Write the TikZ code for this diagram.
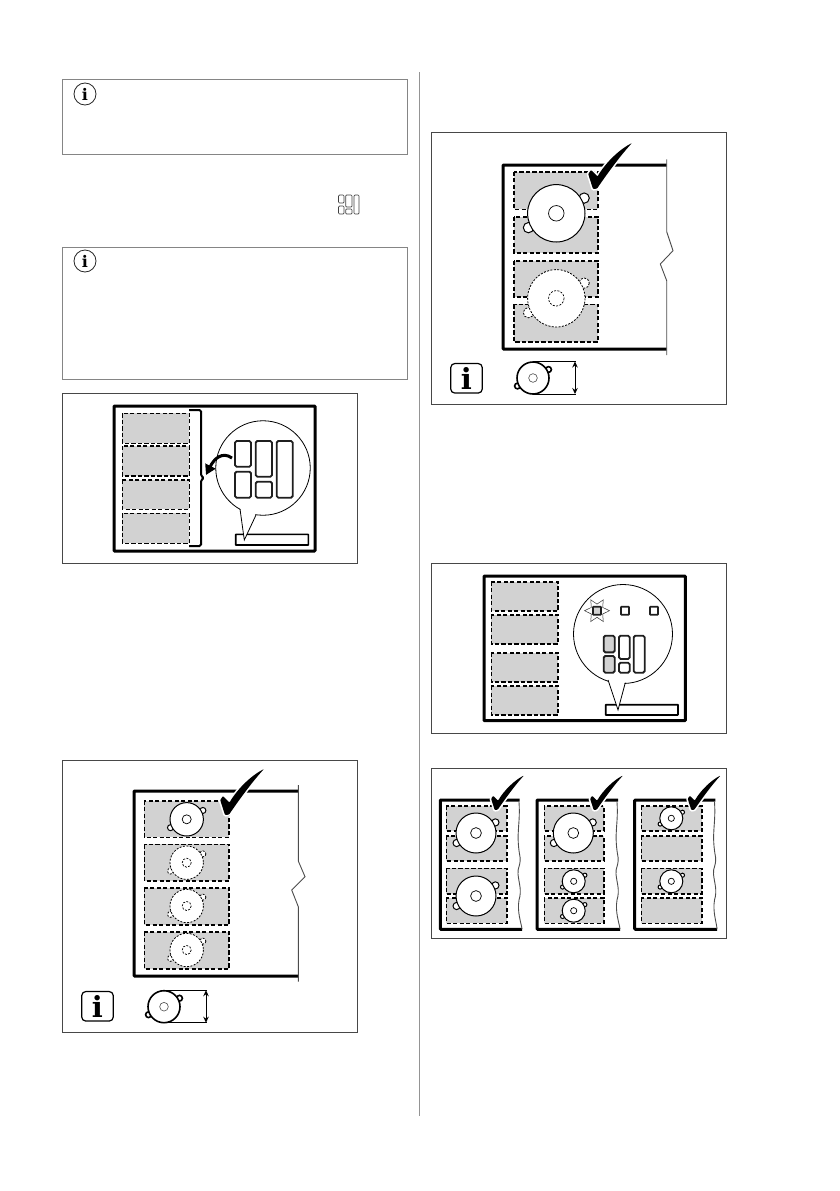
\documentclass[tikz,border=0pt]{standalone}
\usepackage{fontspec}
\usepackage{tikz}
\usetikzlibrary{shapes.geometric, arrows.meta, positioning, calc}

\newfontfamily\infofont{DejaVu Serif}
\definecolor{zonegray}{HTML}{D2D2D2}

\newcommand{\burner}[4]{
  \begin{scope}[shift={(#1,#2)}, scale=#3, #4]
    \filldraw (0.97,-0.53) circle [radius=0.18];
    \filldraw (-0.97,0.5) circle [radius=0.18];
    \filldraw (0,0) circle [radius=1];
    \draw[inner ring] (0,0) circle [radius=0.27];
  \end{scope}
}
\newcommand{\tickmark}[3]{
  \begin{scope}[shift={(#1,#2)}, scale=#3]
    \fill[black, rounded corners=0.8pt, preaction={draw=white, line width=3.2pt}]
      (-4.8,-15) -- (-2,-19) -- (4.5,-12.5)
      .. controls (13,-27) and (27,-40) .. (39,-46)
      .. controls (27,-33) and (14,-15) .. (4,-0.4) -- (0,0) -- cycle;
  \end{scope}
}
\newcommand{\sizemark}[3]{
  \burner{#2}{#3}{16}{solid burner, small burner}
  \coordinate (#1_top) at (#2,#3-16.5);
  \coordinate (#1_bot) at (#2,#3+16);
  \coordinate (#1_topr) at (#2+43,#3-16.5);
  \coordinate (#1_botr) at (#2+43,#3+16);
  \draw[size line] (#1_top) -- (#1_topr);
  \draw[size line] (#1_bot) -- (#1_botr);
  \draw[size arrow] ($(#1_topr)+(-1,0)$) -- ($(#1_botr)+(-1,0)$);
}
\newcommand{\wavyedge}[4]{
  \draw[thin edge] (#1,#2) .. controls (#1+1.5,#2+22) and (#1-3,#2+30) .. (#1+0.5,#2+52)
    .. controls (#1+3,#2+62) and (#1-2,#2+66) .. (#1-1,#2+72)
    .. controls (#1,#2+82) and (#1+3,#2+88) .. (#1,#2+98)
    .. controls (#1-2,#2+110) and (#1+2,#2+120) .. (#3,#4);
}

\begin{document}
\begin{tikzpicture}[
  x=1pt, y=-1pt,
  info frame/.style={draw=black!48, line width=0.9pt},
  pic frame/.style={draw=black!72, line width=0.9pt},
  divider/.style={draw=black!42, line width=0.9pt},
  hob/.style={draw=black, line width=3pt, rounded corners=0.8pt},
  zone/.style={draw=black, fill=zonegray, line width=1.6pt, dash pattern=on 4.2pt off 2.3pt},
  key/.style={draw=black!88, fill=white, line width=1.9pt, rounded corners=1.6pt},
  thin key/.style={draw=black!75, line width=0.7pt, rounded corners=1pt},
  key on/.style={key, fill=zonegray},
  bubble/.style={circle, draw=black, fill=white, line width=0.8pt, inner sep=0pt},
  bubble tail/.style={draw=black, line width=0.8pt},
  bar/.style={draw=black, fill=white, line width=1.6pt, rounded corners=0.4pt},
  thin edge/.style={draw=black!70, line width=0.9pt},
  solid burner/.style={draw=black, fill=white, line width=1pt},
  small burner/.style={line width=1.6pt, inner ring/.style={draw=black!70, line width=0.6pt}},
  dashed burner/.style={draw=black, fill=white, line width=0.8pt, dash pattern=on 2pt off 1.4pt},
  inner ring/.style={line width=0.7pt},
  size line/.style={draw=black, line width=0.9pt},
  size arrow/.style={{Stealth[length=6pt,width=5.5pt]}-{Stealth[length=6pt,width=5.5pt]}, line width=1pt},
  info round/.style={circle, draw=black!85, line width=0.8pt, minimum size=22pt, inner sep=0pt, font=\infofont\bfseries\fontsize{16}{16}\selectfont},
  info key/.style={draw=black, line width=1.2pt, rounded corners=4pt, minimum width=31.5pt, minimum height=29.5pt, inner sep=0pt, font=\infofont\bfseries\fontsize{29}{29}\selectfont}
]

\useasboundingbox (0,0) rectangle (839,1191);

\draw[divider] (419,72) -- (419,1116);

\draw[info frame] (62.3,79.3) rectangle (407,154);
\node (info_one) [info round] at (85,94) {i};

\draw[thin key] (338.5,195) rectangle (344,203);
\draw[thin key] (338.5,206) rectangle (344,214);
\draw[thin key] (345.7,195) rectangle (352,207);
\draw[thin key] (345.7,209) rectangle (352,214);
\draw[thin key] (354,195) rectangle (359,214);

\draw[info frame] (62.3,247.3) rectangle (407,379.3);
\node (info_two) [info round] at (85,261) {i};

\draw[pic frame] (62.3,393.3) rectangle (357.3,563.3);
\draw[hob] (114,406) rectangle (315,551);
\draw[zone] (122.3,413.3) rectangle (189.3,443.3);
\draw[zone] (122.3,446) rectangle (189.3,476);
\draw[zone] (122.3,480) rectangle (189.3,509.3);
\draw[zone] (122.3,513.3) rectangle (189.3,543.3);
\draw[line width=2pt, rounded corners=1.5pt] (189,410) -- (201,410) -- (201,476) -- (204,478) -- (201,480) -- (201,546) -- (189,546);
\draw[bar] (235.7,534.3) rectangle (308.3,545);
\node (bubble_one) [bubble, minimum size=94.5pt] at (263,468) {};
\coordinate (tail_one) at (244.3,540);
\fill[white] (240,507) -- (tail_one) -- (256,513) -- cycle;
\draw[bubble tail] (240,509) -- (tail_one) -- (256,515);
\draw[key] (235,441) rectangle (251,466.7);
\draw[key] (235,471.7) rectangle (251,497.7);
\draw[key] (255.7,441) rectangle (272,476.7);
\draw[key] (255.7,481.7) rectangle (272,497.7);
\draw[key] (276.7,441) rectangle (292.7,497.7);
\draw[-{Triangle[length=10pt,width=11pt]}, line width=3pt] (232,458) .. controls (222,451) and (214,459) .. (206,475);

\draw[pic frame] (62.3,760) rectangle (357.3,1032.3);
\draw[hob] (298,791) -- (134,791) -- (134,976) -- (298,976);
\draw[thin edge] (298.3,785) -- (298.3,861) -- (305,876.7) -- (291.7,890) -- (298.3,906.7) -- (298.3,981.7);
\draw[zone] (144.3,800.7) rectangle (229,837.3);
\draw[zone] (144.3,844.3) rectangle (229,881);
\draw[zone] (144.3,887.7) rectangle (229,925);
\draw[zone] (144.3,931.7) rectangle (229,969);
\burner{186.7}{819.3}{16.7}{solid burner}
\burner{186.7}{862.7}{16.7}{dashed burner}
\burner{186.7}{906}{16.7}{dashed burner}
\burner{186.7}{950}{16.7}{dashed burner}
\tickmark{225}{815}{1}
\node (info_three) [info key] at (97.5,1006.3) {i};
\sizemark{size_one}{164}{1006.7}

\draw[pic frame] (431.3,132.7) rectangle (726.3,404);
\draw[hob] (666.7,165) -- (503,165) -- (503,349) -- (666.7,349);
\draw[thin edge] (666.7,159.3) -- (666.7,231.7) -- (673,250.7) -- (660.3,264) -- (666.7,280.7) -- (666.7,355);
\draw[zone] (513.7,171.7) rectangle (598,209.3);
\draw[zone] (513.7,216.7) rectangle (598,252.7);
\draw[zone] (513.7,260.7) rectangle (598,296.7);
\draw[zone] (513.7,304.3) rectangle (598,341.7);
\burner{556.3}{213.3}{28.7}{solid burner}
\burner{556.3}{298.3}{28.7}{dashed burner}
\tickmark{593}{189}{1}
\node (info_four) [info key] at (466.5,378.3) {i};
\sizemark{size_two}{533}{378}

\draw[pic frame] (431.3,563.3) rectangle (726.3,733.3);
\draw[hob] (484,576) rectangle (685.3,720.7);
\draw[zone] (491.3,581.7) rectangle (558,611);
\draw[zone] (491.3,615) rectangle (558,644);
\draw[zone] (491.3,652.7) rectangle (558,681.7);
\draw[zone] (491.3,686) rectangle (558,715);
\draw[bar] (605.7,704.7) rectangle (678,715);
\node (bubble_two) [bubble, minimum size=99pt] at (623,634) {};
\coordinate (tail_two) at (618,710);
\fill[white] (608,678) -- (tail_two) -- (625.3,680.5) -- cycle;
\draw[bubble tail] (608,680) -- (tail_two) -- (625.3,682.7);
\node (burst) [star, star points=6, star point ratio=1.9, draw=black!80, line width=0.5pt, minimum size=25pt, inner sep=0pt, shape border rotate=90] at (597,610.7) {};
\draw[key on, line width=1.6pt, rounded corners=0.5pt] (593,606.7) rectangle (601,614.7);
\draw[key, line width=1.6pt, rounded corners=0.5pt] (621,606.7) rectangle (629,614.7);
\draw[key, line width=1.6pt, rounded corners=0.5pt] (650,606.7) rectangle (658,614.7);
\draw[key on] (603.7,635.7) rectangle (614.7,652.3);
\draw[key on] (603.7,656) rectangle (614.7,672.7);
\draw[key] (619,635.7) rectangle (629.7,659);
\draw[key] (619,662.7) rectangle (629.7,672.7);
\draw[key] (633.7,635.7) rectangle (644.7,672.7);

\draw[pic frame] (431.3,768.3) rectangle (726.3,938.3);

\draw[hob] (519.7,800) -- (440.3,800) -- (440.3,929.3) -- (522,929.3);
\wavyedge{519}{802}{522}{929}
\draw[zone] (446.3,805.7) rectangle (506.7,831);
\draw[zone] (446.3,835.7) rectangle (506.7,861);
\draw[zone] (446.3,868.3) rectangle (506.7,894);
\draw[zone] (446.3,897.7) rectangle (506.7,923.3);
\burner{476}{833}{20}{solid burner}
\burner{476}{896}{20}{solid burner}
\tickmark{494.7}{810}{0.75}

\draw[hob] (618,800) -- (537,800) -- (537,929.3) -- (620,929.3);
\wavyedge{617}{802}{620}{929}
\draw[zone] (544.3,805.7) rectangle (603.7,831);
\draw[zone] (544.3,835.7) rectangle (603.7,861);
\draw[zone] (544.3,868.3) rectangle (603.7,894);
\draw[zone] (544.3,897.7) rectangle (603.7,923.3);
\burner{573.3}{833}{20}{solid burner}
\burner{573.7}{881.3}{11.5}{solid burner}
\burner{573.7}{910.7}{11.5}{solid burner}
\tickmark{593.7}{810}{0.75}

\draw[hob] (715.3,800) -- (634.7,800) -- (634.7,929.3) -- (717,929.3);
\wavyedge{714.5}{802}{717}{929}
\draw[zone] (641.3,805.7) rectangle (701.7,831);
\draw[zone] (641.3,835.7) rectangle (701.7,861);
\draw[zone] (641.3,868.3) rectangle (701.7,894);
\draw[zone] (641.3,897.7) rectangle (701.7,923.3);
\burner{671.3}{818.3}{11.5}{solid burner}
\burner{671.3}{881.3}{11.5}{solid burner}
\tickmark{691.3}{810}{0.75}

\end{tikzpicture}
\end{document}
